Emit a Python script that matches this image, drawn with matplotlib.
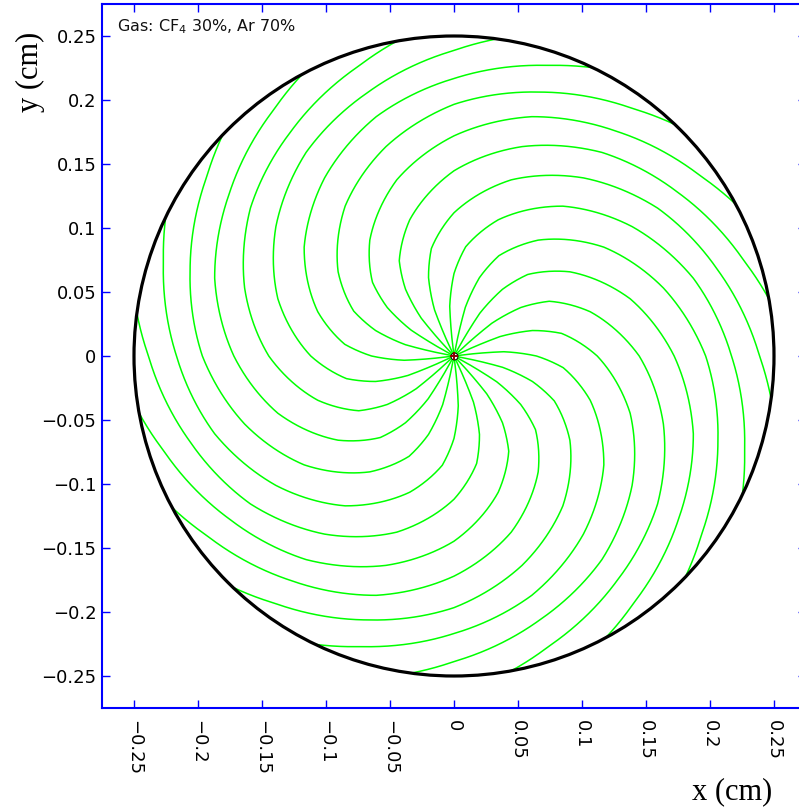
import numpy as np
import matplotlib
matplotlib.use("Agg")
import matplotlib.pyplot as plt
from matplotlib.patches import Circle, PathPatch
from matplotlib.path import Path
from matplotlib.ticker import MultipleLocator, FuncFormatter

# Tube geometry (cm)
tube_radius = 0.25
axis_limit = 0.275

# Azimuth (deg) where each drift line leaves the tube wall
start_angles_deg = [10.3, 28.3, 46.3, 64.3, 82.3, 100.3, 118.3, 136.3, 154.3, 172.3,
                    190.3, 208.3, 226.3, 244.3, 262.3, 280.3, 298.3, 316.3, 334.3, 352.3]

# Drift-line profile: radius (cm) and azimuth turned since leaving the wall (deg)
line_radius_cm = [0.2500, 0.2387, 0.2168, 0.1966, 0.1720, 0.1447, 0.1119,
                  0.0858, 0.0644, 0.0390, 0.0156, 0.0]
line_turn_deg = [0.0, 7.7, 25.7, 43.7, 61.7, 79.7, 97.7,
                 109.6, 115.7, 120.6, 122.3, 122.8]

tick_step = 0.05
gas_label = "Gas: CF$_4$ 30%, Ar 70%"

W, H = 799, 809
fig = plt.figure(figsize=(W / 100, H / 100), dpi=100)
fig.patch.set_facecolor("white")

# square plotting box in pixels
left_px, top_px, size_px = 102, 4, 704
pos = [left_px / W, 1 - (top_px + size_px) / H, size_px / W, size_px / H]

# polar overlay that carries the drift lines; path segments are drawn
# as spiral pieces in (theta, r) rather than straight chords
axp = fig.add_axes(pos, projection="polar")
axp.set_ylim(0, axis_limit)
axp.set_axis_off()
r_arr = np.array(line_radius_cm)
turn_arr = np.array(line_turn_deg)
for a0 in start_angles_deg:
    verts = np.column_stack([np.radians(a0 + turn_arr), r_arr])
    path = Path(verts, _interpolation_steps=60)
    axp.add_patch(PathPatch(path, fill=False, ec="#00ff00", lw=1.1,
                            joinstyle="round", capstyle="round"))

ax = fig.add_axes(pos)
ax.set_zorder(axp.get_zorder() + 1)
ax.patch.set_visible(False)
ax.set_xlim(-axis_limit, axis_limit)
ax.set_ylim(-axis_limit, axis_limit)

ax.add_patch(Circle((0, 0), tube_radius, fill=False, ec="black", lw=2.3))
ax.plot([0], [0], marker="o", ms=5, mfc="white", mec="black", mew=0.7, zorder=5)
ax.plot([0], [0], marker="+", ms=6, mec="#8b0000", mew=1.4, zorder=6)

blue = "#0000ff"
for s in ax.spines.values():
    s.set_color(blue)
    s.set_linewidth(1.5)

def fmt(v, _):
    if abs(v) < 1e-9:
        return "0"
    return f"{round(v, 3):g}".replace("-", "\u2212")

ax.xaxis.set_major_locator(MultipleLocator(tick_step))
ax.yaxis.set_major_locator(MultipleLocator(tick_step))
ax.xaxis.set_major_formatter(FuncFormatter(fmt))
ax.yaxis.set_major_formatter(FuncFormatter(fmt))
ax.tick_params(which="major", direction="in", length=5.5, width=1.0, color=blue,
               top=True, right=True, labelsize=13, labelcolor="black")
ax.tick_params(axis="y", pad=4)
ax.tick_params(axis="x", pad=9)
for lab in ax.get_xticklabels():
    lab.set_rotation(270)

serif = ["Liberation Serif", "DejaVu Serif"]
fig.text(772 / W, 1 - 792 / H, "x (cm)", ha="right", va="center",
         fontsize=22, family=serif)
fig.text(30 / W, 1 - 72 / H, "y (cm)", ha="center", va="center",
         rotation=90, fontsize=22, family=serif)
fig.text(117 / W, 1 - 27 / H, gas_label, ha="left", va="center",
         fontsize=11.5, color="#111111")

fig.savefig("out.png", dpi=100, facecolor="white")
